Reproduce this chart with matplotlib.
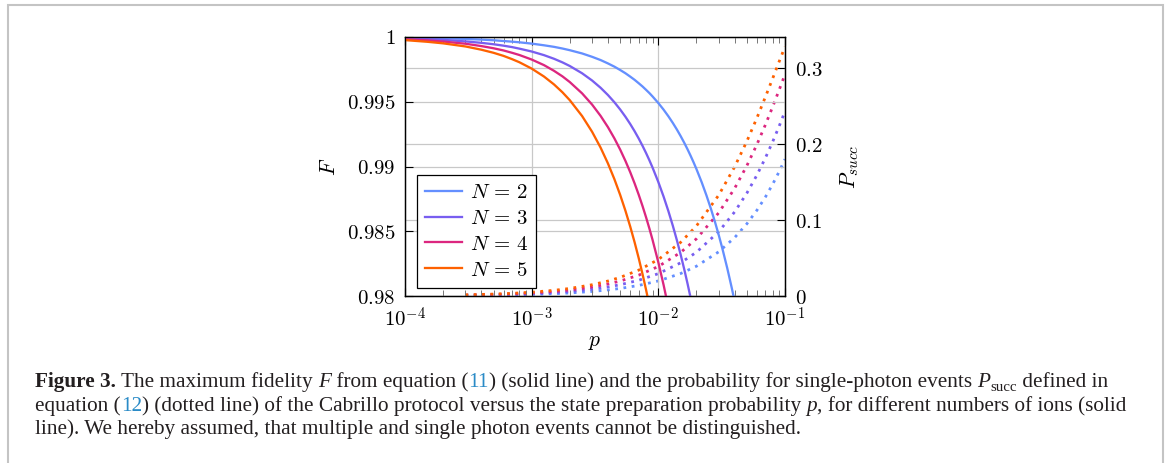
import matplotlib
matplotlib.use('Agg')
import matplotlib.pyplot as plt
from matplotlib.patches import Rectangle
from matplotlib.ticker import LogLocator, NullFormatter

plt.rcParams['mathtext.fontset'] = 'cm'
plt.rcParams['font.family'] = ['DejaVu Serif']

# state preparation probability p
p_fid = [1e-4, 1.5e-4, 2e-4, 3e-4, 4e-4, 5e-4, 6e-4, 7e-4, 8e-4, 1e-3,
         1.25e-3, 1.5e-3, 1.75e-3, 2e-3, 2.5e-3, 3e-3, 3.5e-3, 4e-3, 4.5e-3,
         5e-3, 5.5e-3, 6e-3, 6.5e-3, 7e-3, 7.5e-3, 8e-3, 8.5e-3, 9e-3, 1e-2,
         1.1e-2, 1.2e-2, 1.3e-2, 1.4e-2, 1.5e-2, 1.6e-2, 1.7e-2, 1.8e-2, 1.9e-2,
         2e-2, 2.2e-2, 2.4e-2, 2.6e-2, 2.8e-2, 3e-2, 3.2e-2, 3.5e-2, 3.8e-2, 4e-2]

# maximum fidelity F, solid lines (each list runs until it leaves the axis)
fid_n2 = [0.99995, 0.99992, 0.99990, 0.99985, 0.99980, 0.99975, 0.99969, 0.99964,
          0.99959, 0.99949, 0.99936, 0.99924, 0.99911, 0.99898, 0.99873, 0.99847,
          0.99822, 0.99796, 0.99771, 0.99745, 0.99720, 0.99694, 0.99669, 0.99643,
          0.99618, 0.99592, 0.99567, 0.99541, 0.99490, 0.99439, 0.99388, 0.99337,
          0.99286, 0.99235, 0.99184, 0.99133, 0.99082, 0.99031, 0.98980, 0.98878,
          0.98776, 0.98674, 0.98572, 0.98470, 0.98368, 0.98215, 0.98062, 0.97960]
fid_n3 = [0.99989, 0.99983, 0.99978, 0.99966, 0.99955, 0.99944, 0.99933, 0.99922,
          0.99910, 0.99888, 0.99860, 0.99832, 0.99804, 0.99776, 0.99720, 0.99664,
          0.99608, 0.99552, 0.99496, 0.99440, 0.99384, 0.99328, 0.99272, 0.99216,
          0.99160, 0.99104, 0.99048, 0.98992, 0.98880, 0.98768, 0.98656, 0.98544,
          0.98432, 0.98320, 0.98208, 0.98096, 0.97984]
fid_n4 = [0.99983, 0.99974, 0.99965, 0.99948, 0.99930, 0.99913, 0.99896, 0.99878,
          0.99861, 0.99826, 0.99783, 0.99739, 0.99696, 0.99652, 0.99565, 0.99478,
          0.99391, 0.99304, 0.99217, 0.99130, 0.99043, 0.98956, 0.98869, 0.98782,
          0.98695, 0.98608, 0.98521, 0.98434, 0.98260, 0.98086, 0.97912]
fid_n5 = [0.99976, 0.99963, 0.99951, 0.99927, 0.99902, 0.99878, 0.99854, 0.99829,
          0.99805, 0.99756, 0.99695, 0.99634, 0.99573, 0.99512, 0.99390, 0.99268,
          0.99146, 0.99024, 0.98902, 0.98780, 0.98658, 0.98536, 0.98414, 0.98292,
          0.98170, 0.98048, 0.97926]

# single photon probability P_succ, dotted lines
p_succ = [3e-4, 5e-4, 7e-4, 1e-3, 1.5e-3, 2e-3, 3e-3, 4e-3, 5e-3, 7e-3, 1e-2,
          1.5e-2, 2e-2, 3e-2, 4e-2, 5e-2, 6e-2, 7e-2, 8e-2, 9e-2, 1e-1]
succ_n2 = [0.00060, 0.00100, 0.00140, 0.00200, 0.00300, 0.00399, 0.00598, 0.00797,
           0.00995, 0.01390, 0.01980, 0.02955, 0.03920, 0.05820, 0.07680, 0.09500,
           0.11280, 0.13020, 0.14720, 0.16380, 0.18000]
succ_n3 = [0.00090, 0.00150, 0.00210, 0.00299, 0.00449, 0.00598, 0.00895, 0.01190,
           0.01485, 0.02071, 0.02940, 0.04366, 0.05762, 0.08468, 0.11059, 0.13538,
           0.15905, 0.18163, 0.20314, 0.22359, 0.24300]
succ_n4 = [0.00120, 0.00200, 0.00280, 0.00399, 0.00597, 0.00795, 0.01189, 0.01581,
           0.01970, 0.02741, 0.03881, 0.05733, 0.07530, 0.10954, 0.14156, 0.17148,
           0.19935, 0.22524, 0.24917, 0.27128, 0.29160]
succ_n5 = [0.00150, 0.00250, 0.00349, 0.00498, 0.00746, 0.00992, 0.01482, 0.01968,
           0.02450, 0.03405, 0.04803, 0.07061, 0.09224, 0.13280, 0.16987, 0.20363,
           0.23424, 0.26186, 0.28645, 0.30864, 0.32805]

labels = [r'$N\,=\,2$', r'$N\,=\,3$', r'$N\,=\,4$', r'$N\,=\,5$']
colors = ['#648FFF', '#785EF0', '#DC267F', '#FE6100']

W, H = 1167, 463
fig = plt.figure(figsize=(W / 100, H / 100), dpi=100)

# page frame
fig.patches.append(Rectangle((7.5 / W, -0.2), (1163 - 7.5) / W, 1.2 - 4.5 / H,
                             transform=fig.transFigure, fill=False,
                             edgecolor='#c4c4c4', linewidth=1.5))

ax = fig.add_axes([405 / W, (H - 296) / H, 380 / W, 259 / H])
ax2 = ax.twinx()
ax.set_zorder(2)
ax.patch.set_visible(False)

for f, c, lab in zip([fid_n2, fid_n3, fid_n4, fid_n5], colors, labels):
    ax.plot(p_fid[:len(f)], f, color=c, lw=1.65, label=lab)
for s, c in zip([succ_n2, succ_n3, succ_n4, succ_n5], colors):
    ax2.plot(p_succ, s, color=c, lw=2.0, linestyle=(0, (1, 2)))

ax.set_xscale('log')
ax.set_xlim(1e-4, 1e-1)
ax.set_ylim(0.98, 1.0)
ax2.set_ylim(0, 0.3408)

tsize = 15
ax.set_xticks([1e-4, 1e-3, 1e-2, 1e-1],
              ['$10^{-4}$', '$10^{-3}$', '$10^{-2}$', '$10^{-1}$'])
ax.xaxis.set_minor_locator(LogLocator(base=10, subs=range(2, 10), numticks=20))
ax.xaxis.set_minor_formatter(NullFormatter())
ax.set_yticks([0.98, 0.985, 0.99, 0.995, 1.0],
              ['$0.98$', '$0.985$', '$0.99$', '$0.995$', '$1$'])
ax2.set_yticks([0, 0.1, 0.2, 0.3], ['$0$', '$0.1$', '$0.2$', '$0.3$'])

ax.tick_params(axis='x', which='both', direction='in', top=True, bottom=True,
               labelsize=tsize, pad=8, color='black')
ax.tick_params(axis='x', which='major', length=6, width=0.8)
ax.tick_params(axis='x', which='minor', length=4, width=0.7, color='#777777')
ax.tick_params(axis='y', direction='in', left=True, right=False, length=6,
               width=0.8, labelsize=tsize, pad=7)
ax2.tick_params(axis='y', direction='in', right=True, length=6, width=0.8,
                labelsize=tsize, pad=7)

grid_kw = dict(color='#c8c8c8', linewidth=0.9)
ax.grid(True, which='major', **grid_kw)
ax2.grid(True, axis='y', **grid_kw)
ax.set_axisbelow(True)
for a in (ax, ax2):
    for sp in a.spines.values():
        sp.set_linewidth(0.9)

ax.text(-0.2, 0.5, '$F$', transform=ax.transAxes, rotation=90,
        ha='center', va='center', fontsize=15.5)
ax.text(1.171, 0.5, '$P_{succ}$', transform=ax.transAxes, rotation=90,
        ha='center', va='center', fontsize=15.5)
ax.text(0.5, -0.174, '$p$', transform=ax.transAxes,
        ha='center', va='center', fontsize=15.5)

leg = ax.legend(loc='lower left', bbox_to_anchor=(0.031, 0.031),
                borderaxespad=0, fontsize=tsize, frameon=True, fancybox=False,
                framealpha=1, edgecolor='black', handlelength=1.75,
                handletextpad=0.4, labelspacing=0.33, borderpad=0.4)
leg.get_frame().set_linewidth(0.9)

# caption, drawn piece by piece so that style can change inside a line
TXT = '#231f20'
LINK = '#2a8bc7'
cap_size = 15.3
cap_lines = [
    [('Figure 3.', 'bold'), (' The maximum fidelity ', 'n'), ('F', 'it'),
     (' from equation (', 'n'), ('11', 'link'),
     (') (solid line) and the probability for single-photon events ', 'n'),
     ('P', 'it'), ('succ', 'sub'), (' defined in', 'n')],
    [('equation (', 'n'), ('12', 'link'),
     (') (dotted line) of the Cabrillo protocol versus the state preparation probability ', 'n'),
     ('p', 'it'), (', for different numbers of ions (solid', 'n')],
    [('line). We hereby assumed, that multiple and single photon events cannot be distinguished.', 'n')],
]
baselines = [387, 411, 434]

fig.canvas.draw()
renderer = fig.canvas.get_renderer()
for parts, yb in zip(cap_lines, baselines):
    x = 35.0
    for s, st in parts:
        kw = dict(family='Liberation Serif', fontsize=cap_size, color=TXT,
                  va='baseline', ha='left')
        y = yb
        if st == 'bold':
            kw['weight'] = 'bold'
        elif st == 'it':
            kw['style'] = 'italic'
        elif st == 'link':
            kw['color'] = LINK
        elif st == 'sub':
            kw['fontsize'] = cap_size * 0.7
            y = yb + 4
        t = fig.text(x / W, 1 - y / H, s, **kw)
        bb = t.get_window_extent(renderer)
        x += bb.width

fig.savefig('out.png', dpi=100)
